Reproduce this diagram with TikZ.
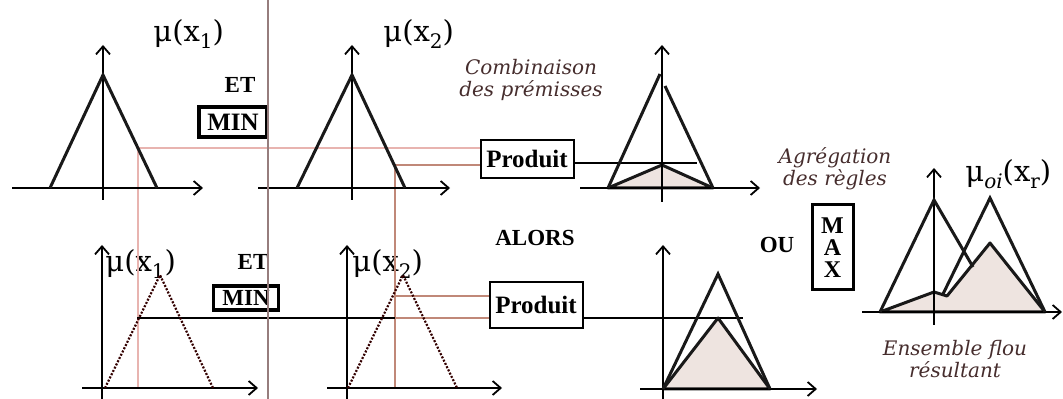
\documentclass[tikz,border=0pt]{standalone}
\usepackage{fontspec}
\setmainfont{Liberation Serif}
\newfontfamily\mufont{DejaVu Serif}
\newfontfamily\notefont{DejaVu Serif}
\usetikzlibrary{arrows.meta}
\definecolor{fillc}{RGB}{238,228,224}
\definecolor{notec}{RGB}{70,45,45}
\definecolor{pinkc}{RGB}{232,180,176}
\definecolor{brownc}{RGB}{192,136,120}
\definecolor{greyc}{RGB}{150,125,125}
\tikzset{
  axis/.style={line width=0.9pt, draw=black, -{Straight Barb[length=4pt,width=7pt,line width=0.9pt]}},
  memb/.style={line width=1.5pt, draw=black!90, line join=miter},
  dotmemb/.style={line width=1.1pt, dash pattern=on 1pt off 0.8pt, draw=black!80!red},
  shadereg/.style={fill=fillc, draw=black!90, line width=1.5pt, line join=round},
  opbox/.style={draw, line width=1.8pt, inner sep=0pt, font=\bfseries\fontsize{12.5}{12.5}\selectfont},
  prodbox/.style={draw, line width=1pt, inner sep=0pt, minimum width=46.5pt, font=\bfseries\fontsize{12.5}{12.5}\selectfont},
  kw/.style={font=\bfseries\fontsize{11.5}{11.5}\selectfont},
  mulab/.style={anchor=base west, inner sep=0pt, font=\mufont\fontsize{14.5}{14.5}\selectfont},
  note/.style={font=\notefont\itshape\fontsize{10}{11}\selectfont, text=notec, align=center, inner sep=0pt},
  link/.style={draw=black, line width=0.7pt},
  pinkl/.style={draw=pinkc, line width=0.6pt},
  brownl/.style={draw=brownc, line width=0.6pt},
  greyl/.style={draw=greyc, line width=0.8pt}
}
\newcommand{\sbs}[1]{\raisebox{-3.5pt}{\fontsize{10}{10}\selectfont #1}}
\begin{document}
\begin{tikzpicture}[x=0.5pt,y=-0.5pt]
\useasboundingbox (0,0) rectangle (1063,399);

% ---------- boxes and labels ----------
\node[opbox, minimum width=34pt, minimum height=15pt] (min1) at (233,122) {MIN};
\node[opbox, minimum width=32.5pt, minimum height=12pt, font=\bfseries\fontsize{11.5}{11.5}\selectfont] (min2) at (246,298) {MIN};
\node[prodbox, minimum height=19pt] (p1) at (527,159) {Produit};
\node[prodbox, minimum height=23pt] (p2) at (536,305) {Produit};
\node[opbox, line width=1.5pt, minimum width=20.5pt, minimum height=42.5pt, align=center, font=\bfseries\fontsize{12}{11}\selectfont] (max) at (832.5,247.5) {M\\A\\X};

\node[kw] (et1) at (240,85) {ET};
\node[kw] (et2) at (253,262) {ET};
\node[kw] (alors) at (535,238) {ALORS};
\node[kw] (ou) at (777,245) {OU};

\node[mulab] (mu1) at (153,42) {μ(x\sbs{1})};
\node[mulab] (mu2) at (383,42) {μ(x\sbs{2})};
\node[mulab] (mu3) at (105,272) {μ(x\sbs{1})};
\node[mulab] (mu4) at (352,272) {μ(x\sbs{2})};
\node[mulab] (mu5) at (965,182) {μ\sbs{\itshape oi}(x\sbs{r})};

\node[note] (comb) at (531,80) {Combinaison\\des prémisses};
\node[note] (agr) at (835,169) {Agrégation\\des règles};
\node[note] (ens) at (955,359) {Ensemble flou\\résultant};

% ---------- guide lines ----------
\coordinate (a1) at (138,148);
\coordinate (a1b) at (138,388);
\coordinate (a2) at (395,165);
\coordinate (a2b) at (395,388);
\coordinate (b1) at (137,318);
\coordinate (b1m) at (395,318);
\coordinate (b2) at (395,296);
\draw[pinkl] (a1) -- (a1 -| p1.west);
\draw[pinkl] (a1) -- (a1b);
\draw[brownl] (a2) -- (a2 -| p1.west);
\draw[brownl] (a2) -- (a2b);
\draw[link] (b1) -- (b1m);
\draw[brownl] (b1m) -- (b1m -| p2.west);
\draw[brownl] (b2) -- (b2 -| p2.west);

\coordinate (c1) at (697,163);
\draw[link] (p1.east |- c1) -- (c1);
\coordinate (c2) at (743,318);
\draw[link] (p2.east |- c2) -- (c2);

% ---------- top row ----------
\draw[axis] (12,188) -- (203,188);
\draw[axis] (103,200) -- (103,45);
\draw[memb] (50,188) -- (103,75) -- (157,188);

\draw[axis] (258,188) -- (450,188);
\draw[axis] (352,200) -- (352,45);
\draw[memb] (297,188) -- (352,75) -- (405,188);

\draw[shadereg] (608,188) -- (662,165) -- (713,188) -- cycle;
\draw[axis] (580,188) -- (760,188);
\draw[axis] (662,202) -- (662,45);
\draw[memb] (608,188) -- (660,74);
\draw[memb] (665,86) -- (713,188);

% ---------- bottom row ----------
\draw[axis] (82,388) -- (258,388);
\draw[axis] (102,400) -- (102,245);
\draw[dotmemb] (105,388) -- (160,275) -- (213,388);

\draw[axis] (327,388) -- (502,388);
\draw[axis] (347,400) -- (347,245);
\draw[dotmemb] (348,388) -- (403,275) -- (457,388);

\draw[shadereg] (663,389) -- (718,318) -- (770,389) -- cycle;
\draw[axis] (640,389) -- (817,389);
\draw[axis] (663,400) -- (663,245);
\draw[memb] (663,389) -- (718,274) -- (770,389);

% ---------- aggregation ----------
\draw[shadereg] (880,312) -- (934,292) -- (947,296) -- (990,243) -- (1045,312) -- cycle;
\draw[axis] (862,312) -- (1062,312);
\draw[axis] (934,325) -- (934,168);
\draw[memb] (880,312) -- (934,200) -- (973,267);
\draw[memb] (943,294) -- (990,198) -- (1045,312);

% ---------- separator ----------
\draw[greyl] (268,0) -- (268,399);
\end{tikzpicture}
\end{document}
